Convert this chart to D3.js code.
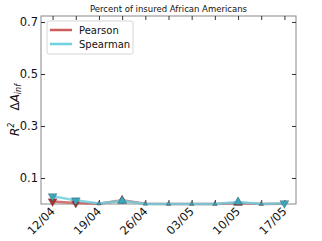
<!DOCTYPE html>
<html>
<head>
<meta charset="utf-8">
<script src="https://cdn.jsdelivr.net/npm/d3@7"></script>
<style>
  body { margin: 0; background: #fff; }
  text { font-family: "DejaVu Sans", sans-serif; }
</style>
</head>
<body>
<div id="chart"></div>
<script>
// podaci
const dates = ["12/04", "15/04", "19/04", "22/04", "26/04", "29/04", "03/05", "06/05", "10/05", "13/05", "17/05"];
const tickLabels = ["12/04", "19/04", "26/04", "03/05", "10/05", "17/05"];
const pearson = [0.010, 0.004, 0.001, 0.014, 0.001, 0.000, 0.000, 0.000, 0.004, 0.000, 0.001];
const spearman = [0.030, 0.014, 0.002, 0.012, 0.000, 0.000, 0.000, 0.000, 0.008, 0.000, 0.003];
const pearsonSign = [-1, -1, 1, 1, 1, 1, 1, 1, 1, 1, -1];
const spearmanSign = [-1, -1, 1, 1, 1, 1, 1, 1, 1, 1, -1];
const yTicks = [0.1, 0.3, 0.5, 0.7];

const dim = { width: 322, height: 241, margin: { top: 16, right: 26, bottom: 37, left: 41 } };
dim.w = dim.width - dim.margin.left - dim.margin.right;
dim.h = dim.height - dim.margin.top - dim.margin.bottom;

const svg = d3.select("#chart").append("svg")
  .attr("width", dim.width)
  .attr("height", dim.height);

const g = svg.append("g")
  .attr("transform", `translate(${dim.margin.left},${dim.margin.top})`);

const x = d3.scaleLinear().domain([-0.5, dates.length - 0.5]).range([0, dim.w]);
const y = d3.scaleLinear().domain([0, 0.723]).range([dim.h, 0]);

// okvir
g.append("rect")
  .attr("width", dim.w).attr("height", dim.h)
  .attr("fill", "none").attr("stroke", "#888").attr("stroke-width", 1);

// tickovi
const idx = d3.range(dates.length);
g.append("g").attr("transform", `translate(0,${dim.h})`)
  .call(d3.axisBottom(x).tickValues(idx).tickSize(-4).tickFormat(""))
  .call(a => a.select(".domain").remove())
  .call(a => a.selectAll("line").attr("stroke", "#333"));
g.append("g")
  .call(d3.axisTop(x).tickValues(idx).tickSize(-4).tickFormat(""))
  .call(a => a.select(".domain").remove())
  .call(a => a.selectAll("line").attr("stroke", "#333"));

g.selectAll(".xlab").data(dates)
  .join("text")
  .attr("class", "xlab")
  .attr("transform", (d, i) => `translate(${x(i) + 3},${dim.h + 8}) rotate(-45)`)
  .attr("text-anchor", "end")
  .attr("font-size", 11.5)
  .attr("fill", "#111")
  .text(d => tickLabels.includes(d) ? d : "")
  .attr("display", (d, i) => i % 2 === 0 ? null : "none");

g.append("g")
  .call(d3.axisLeft(y).tickValues(yTicks).tickSize(-4).tickPadding(3).tickFormat(d3.format(".1f")))
  .call(a => a.select(".domain").remove())
  .call(a => a.selectAll("line").attr("stroke", "#333"))
  .call(a => a.selectAll("text").attr("font-size", 11.5).attr("fill", "#111").attr("font-family", "DejaVu Sans"));
g.append("g").attr("transform", `translate(${dim.w},0)`)
  .call(d3.axisRight(y).tickValues(yTicks).tickSize(-4).tickFormat(""))
  .call(a => a.select(".domain").remove())
  .call(a => a.selectAll("line").attr("stroke", "#333"));

// linije
const series = [
  { name: "Pearson", values: pearson, signs: pearsonSign, color: "#cd5c5c", marker: "#b03030" },
  { name: "Spearman", values: spearman, signs: spearmanSign, color: "#6fd0de", marker: "#3aa6bd" }
];

const line = d3.line().x((d, i) => x(i)).y(d => y(d));

series.forEach(s => {
  g.append("path")
    .datum(s.values)
    .attr("fill", "none")
    .attr("stroke", s.color)
    .attr("stroke-opacity", 0.85)
    .attr("stroke-width", 2.5)
    .attr("d", line);

  g.selectAll(null).data(s.values)
    .join("path")
    .attr("transform", (d, i) => `translate(${x(i)},${y(d)}) rotate(${s.signs[i] < 0 ? 180 : 0})`)
    .attr("d", (d, i) => d3.symbol(d3.symbolTriangle, d > 0.002 ? 34 : 8)())
    .attr("fill", s.marker)
    .attr("stroke", "#333")
    .attr("stroke-width", 0.3);
});

// naslov
svg.append("text")
  .attr("x", dim.margin.left + dim.w / 2)
  .attr("y", 12)
  .attr("text-anchor", "middle")
  .attr("font-size", 8.5)
  .attr("fill", "#111")
  .text("Percent of insured African Americans");

// oznaka y osi
const yl = svg.append("text")
  .attr("transform", `translate(19,110) rotate(-90)`)
  .attr("text-anchor", "middle")
  .attr("font-family", "DejaVu Serif")
  .attr("font-style", "italic")
  .attr("font-size", 12)
  .attr("fill", "#111");
yl.append("tspan").text("R");
yl.append("tspan").attr("font-size", 8).attr("dy", -5).text("2");
yl.append("tspan").attr("dy", 5).text("\u2002\u2002");
yl.append("tspan").attr("font-style", "normal").text("\u0394");
yl.append("tspan").text("A");
yl.append("tspan").attr("font-size", 8).attr("dy", 2).text("inf");

// legenda
const leg = g.append("g").attr("transform", "translate(6,5)");
leg.append("rect")
  .attr("width", 86).attr("height", 33).attr("rx", 2)
  .attr("fill", "#fff").attr("stroke", "#ccc").attr("stroke-width", 0.8);
series.forEach((s, i) => {
  leg.append("line")
    .attr("x1", 3).attr("x2", 25)
    .attr("y1", 9 + i * 14).attr("y2", 9 + i * 14)
    .attr("stroke", s.color).attr("stroke-width", 2.5);
  leg.append("text")
    .attr("x", 32).attr("y", 13 + i * 14)
    .attr("font-size", 10)
    .attr("fill", "#111")
    .text(s.name);
});
</script>
</body>
</html>
